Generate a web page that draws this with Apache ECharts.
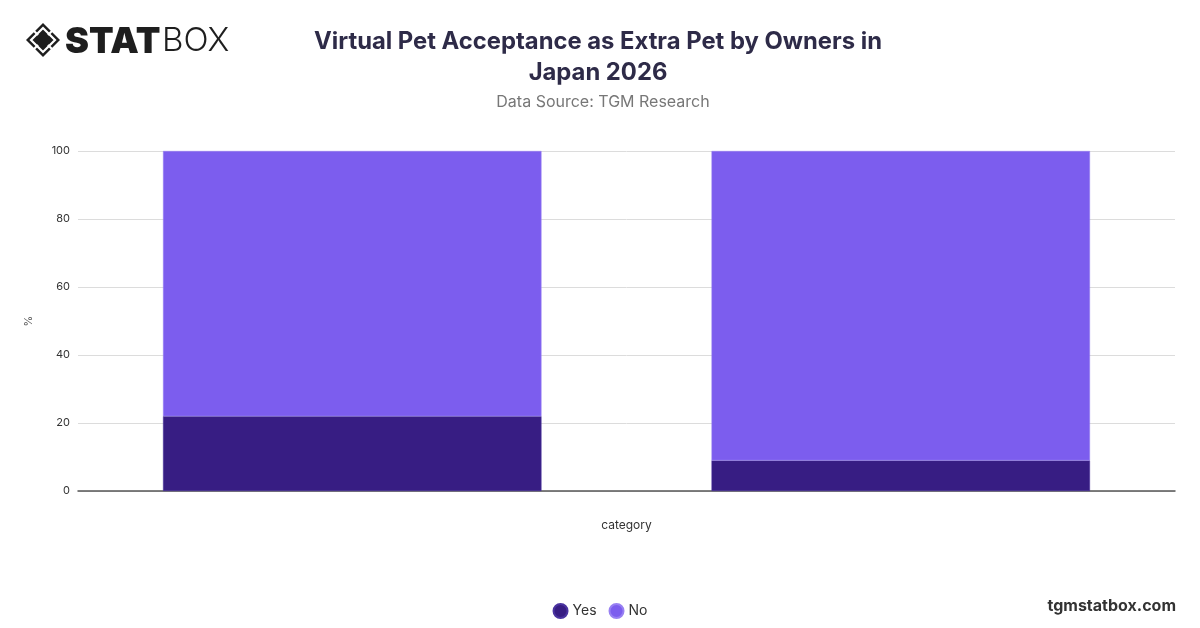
<!DOCTYPE html>
<html>
<head>
    <meta charset="utf-8">
    <title>Virtual Pet Acceptance as Extra Pet by Owners in Japan 2026</title>
    <script src="https://cdn.jsdelivr.net/npm/echarts@6/dist/echarts.min.js"></script>
    <style>
        html, body { margin: 0; padding: 0; background: #fff; }
        #main { width: 1200px; height: 628px; }
    </style>
</head>
<body>
<div id="main"></div>

<script>
    // data
    let categories = ['Group 1', 'Group 2'];
    let yesValues = [22, 9];
    let noValues = [78, 91];
    let yTicks = [0, 20, 40, 60, 80, 100];

    let font = 'Inter, "Noto Sans", sans-serif';

    var myChart = echarts.init(document.getElementById('main'), null, {renderer: 'canvas'});

    // logo: diamond icon + STATBOX
    let cx = 43, cy = 40, r = 17;
    let logo = [
        {
            type: 'polygon', shape: {points: [[cx, cy - r], [cx + r, cy], [cx, cy + r], [cx - r, cy]]},
            style: {fill: '#1e1e1e'}
        },
        {
            type: 'polygon', shape: {points: [[cx, cy - r + 5], [cx + r - 5, cy], [cx, cy + r - 5], [cx - r + 5, cy]]},
            style: {fill: '#1e1e1e', stroke: '#fff', lineWidth: 2.2}
        },
        {type: 'line', shape: {x1: cx - 9, y1: cy - 9, x2: cx - 5, y2: cy - 5}, style: {stroke: '#fff', lineWidth: 2.2}},
        {type: 'line', shape: {x1: cx + 9, y1: cy - 9, x2: cx + 5, y2: cy - 5}, style: {stroke: '#fff', lineWidth: 2.2}},
        {type: 'line', shape: {x1: cx - 9, y1: cy + 9, x2: cx - 5, y2: cy + 5}, style: {stroke: '#fff', lineWidth: 2.2}},
        {type: 'line', shape: {x1: cx + 9, y1: cy + 9, x2: cx + 5, y2: cy + 5}, style: {stroke: '#fff', lineWidth: 2.2}},
        {
            type: 'text', left: 65, top: 24,
            style: {text: 'STAT', font: '900 36px Inter, "Noto Sans", sans-serif', fill: '#1e1e1e'}
        },
        {
            type: 'text', left: 162, top: 25,
            style: {text: 'BOX', font: '300 33px Inter, "Noto Sans", sans-serif', fill: '#1e1e1e'}
        },
        {
            type: 'text', right: 24, top: 598,
            style: {text: 'tgmstatbox.com', font: 'bold 16px Inter, "Noto Sans", sans-serif', fill: '#333'}
        }
    ];

    myChart.setOption({
        animation: false,
        title: [
            {
                text: 'Virtual Pet Acceptance as Extra Pet by Owners in\nJapan 2026',
                left: 593, top: 21, textAlign: 'center',
                textStyle: {fontFamily: font, fontSize: 23.8, fontWeight: 'bold', color: '#2e2b48', lineHeight: 31}
            },
            {
                text: 'Data Source: TGM Research',
                left: 598, top: 89, textAlign: 'center',
                textStyle: {fontFamily: font, fontSize: 16, fontWeight: 'normal', color: '#777'}
            }
        ],
        graphic: logo,
        legend: {
            bottom: 4, left: 'center',
            icon: 'circle', itemWidth: 14, itemHeight: 14, itemGap: 12,
            textStyle: {fontFamily: font, fontSize: 14, color: '#333'},
            data: ['Yes', 'No']
        },
        grid: {left: 78, right: 25, top: 151, bottom: 137},
        xAxis: {
            type: 'category',
            data: categories,
            name: 'category',
            nameLocation: 'middle',
            nameGap: 28,
            nameTextStyle: {fontFamily: font, fontSize: 12, color: '#333'},
            axisLine: {lineStyle: {color: '#555', width: 1.5}},
            axisTick: {show: false},
            axisLabel: {show: false}
        },
        yAxis: {
            type: 'value',
            min: yTicks[0],
            max: yTicks[yTicks.length - 1],
            interval: 20,
            name: '%',
            nameLocation: 'middle',
            nameGap: 44,
            nameTextStyle: {fontFamily: font, fontSize: 11, color: '#555'},
            axisLabel: {fontFamily: font, fontSize: 11, color: '#333', margin: 8},
            splitLine: {lineStyle: {color: '#dcdcdc'}}
        },
        series: [
            {
                name: 'Yes', type: 'bar', stack: 'total',
                barWidth: '69%',
                data: yesValues,
                itemStyle: {color: '#371d83', borderColor: '#4a33a0', borderWidth: 0.5}
            },
            {
                name: 'No', type: 'bar', stack: 'total',
                barWidth: '69%',
                data: noValues,
                itemStyle: {color: '#7c5dee', borderColor: '#9880f2', borderWidth: 0.5}
            }
        ]
    });
</script>
</body>
</html>
